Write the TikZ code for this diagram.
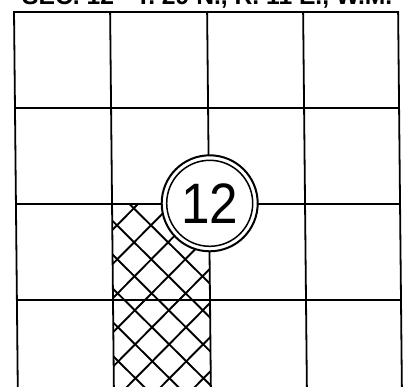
\documentclass[tikz,border=0pt]{standalone}
\usepackage{fontspec}
\setmainfont{Liberation Sans}
\begin{document}
\begin{tikzpicture}[x=1pt,y=-1pt,
  gridline/.style={line width=1.8pt,line cap=rect},
  hatchline/.style={line width=1.9pt},
  ringouter/.style={circle,draw,line width=2pt,fill=white,minimum size=96pt,inner sep=0pt},
  ringinner/.style={circle,draw,line width=1.5pt,fill=white,minimum size=86pt,inner sep=0pt},
  titletext/.style={anchor=base west,inner sep=0pt,font=\bfseries}]
\useasboundingbox (0,0) rectangle (415,386);
\clip (0,0) rectangle (415,386);
\fill[white] (0,0) rectangle (415,386);
% title (cut at top edge, as in the reference)
\node[titletext] (title) at (22,4.8) {\resizebox{370pt}{!}{SEC. 12 - T. 29 N., R. 11 E., W.M.}};
\begin{scope}[xslant=-0.01]
  % hatching in column 2, rows 3-4
  \begin{scope}
    \clip (110,204) rectangle (207,400);
    \foreach \k in {-20,...,20} {
      \draw[hatchline] ({25.4+34*\k},0) -- ++(500,500);
      \draw[hatchline] ({34*\k+340},0) -- ++(-500,500);
    }
  \end{scope}
  % grid
  \foreach \xx in {13.9,110,207,303,398} \draw[gridline] (\xx,12) -- (\xx,400);
  \foreach \yy in {12,108,204,300} \draw[gridline] (13.9,\yy) -- (398,\yy);
\end{scope}
% section number
\node[ringouter] (ring) at (209.7,203.3) {};
\node[ringinner] (num) at (ring.center) {\fontsize{57}{57}\selectfont\scalebox{0.9}[1]{12}};
\end{tikzpicture}
\end{document}
